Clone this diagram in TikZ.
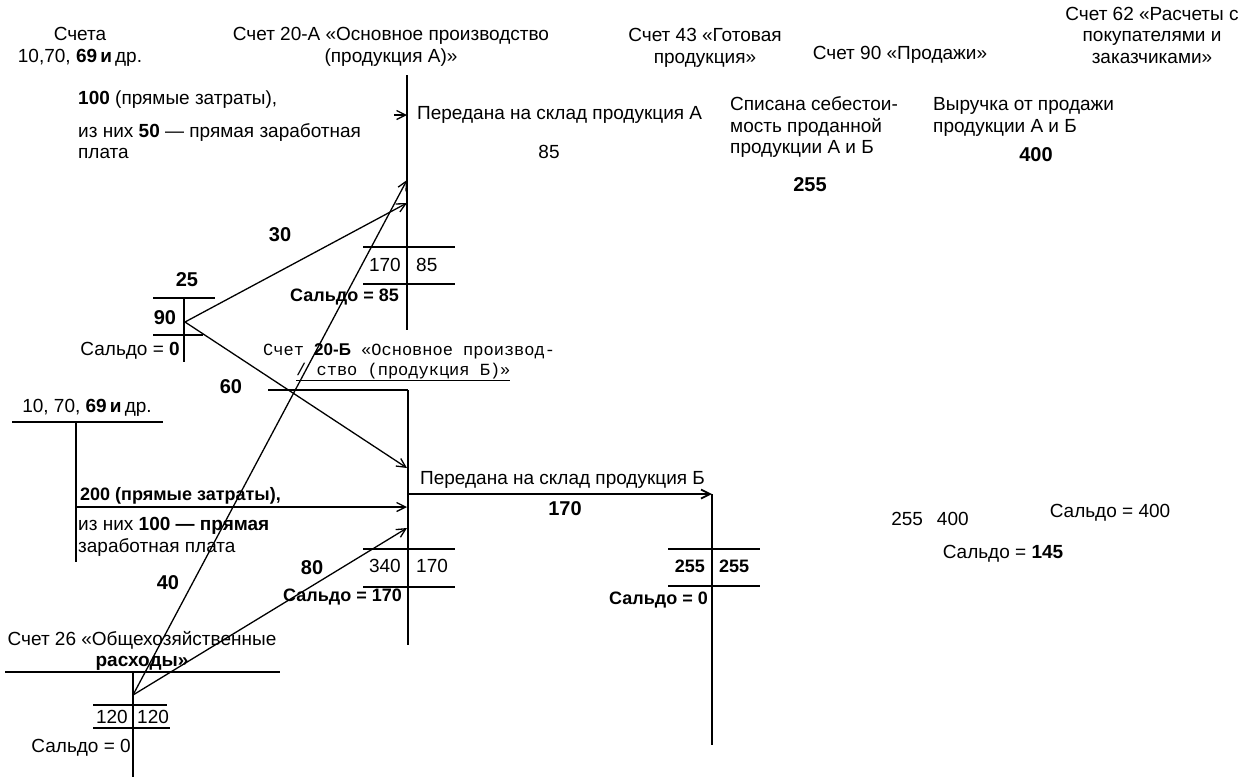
\documentclass[tikz,border=0pt]{standalone}
\usepackage{fontspec}
\setmainfont{Liberation Sans}
\newfontfamily\monofont{Liberation Mono}
\usetikzlibrary{arrows.meta}
\tikzset{
  txt/.style={font=\fontsize{19}{21.5}\selectfont, inner sep=0pt},
  bnum/.style={font=\fontsize{20}{22}\selectfont\bfseries, inner sep=0pt},
  bsal/.style={font=\fontsize{18}{21}\selectfont\bfseries, inner sep=0pt},
  tline/.style={line width=1.8pt},
  flow/.style={-{Straight Barb[length=9pt,width=9pt]}, line width=1.3pt},
}
\begin{document}
\begin{tikzpicture}[x=1pt,y=-1pt]
\useasboundingbox (0,0) rectangle (1242,777);
% headings
\node[txt, align=center] (hsch) at (80,47) {Счета\\10,70, \textbf{69\,и}\,др.};
\node[txt, align=center] (h20a) at (391,47) {Счет 20-А «Основное производство\\(продукция А)»};
\node[txt, align=center] (h43) at (705,48) {Счет 43 «Готовая\\продукция»};
\node[txt] (h90) at (900,55) {Счет 90 «Продажи»};
\node[txt, align=center] (h62) at (1152,35) {Счет 62 «Расчеты с\\покупателями и\\заказчиками»};
% texts of the upper part
\node[txt, anchor=west] (t100) at (78,100) {\textbf{100} (прямые затраты),};
\node[txt, anchor=west, align=left] (t50) at (78,141) {из них \textbf{50} — прямая заработная\\плата};
\node[txt, anchor=west] (tpa) at (417,115) {Передана на склад продукция А};
\node[txt] (n85) at (549,152) {85};
\node[txt, anchor=west, align=left] (tcost) at (730,127) {Списана себестои-\\мость проданной\\продукции А и Б};
\node[txt, anchor=west, align=left] (trev) at (933,117) {Выручка от продажи\\продукции А и Б};
\node[bnum] (n400) at (1036,155) {400};
\node[bnum] (n255) at (810,185) {255};
% account 20-A
\draw[tline] (407,75) -- (407,330);
\draw[tline] (363,247) -- (455,247);
\draw[tline] (363,284) -- (455,284);
\node[txt, anchor=east] (da) at (401,265) {170};
\node[txt, anchor=west] (ka) at (416,265) {85};
\node[bsal, anchor=east] (sa) at (399,297) {Сальдо = 85};
\coordinate (in100) at (407,115);
\coordinate (from100) at (394,115);
\coordinate (in40) at (407,180);
\coordinate (in30) at (407,203);
\draw[flow] (from100) -- (in100);
% account 25
\node[bnum] (h25) at (187,280) {25};
\draw[tline] (153,298) -- (215,298);
\draw[tline] (184,298) -- (184,362);
\draw[tline] (153,335) -- (203,335);
\node[bnum] (d25) at (165,318) {90};
\node[txt, anchor=east] (s25) at (180,351) {Сальдо = \textbf{0}};
\coordinate (j25) at (185,322);
\node[bnum] (l30) at (280,235) {30};
\node[bnum] (l60) at (231,387) {60};
% account 20-B
\node[txt, font=\fontsize{17}{20}\monofont, anchor=west, align=left] (h20b) at (263,362)
  {Счет \textbf{\rmfamily 20-Б} «Основное производ-\\\hspace*{33pt}\underline{/ ство (продукция Б)»}};
\draw[tline] (268,390) -- (408,390);
\draw[tline] (408,390) -- (408,645);
\draw[tline] (363,549) -- (455,549);
\draw[tline] (363,587) -- (455,587);
\node[txt, anchor=east] (db) at (401,566) {340};
\node[txt, anchor=west] (kb) at (416,566) {170};
\node[bsal, anchor=east] (sb) at (402,597) {Сальдо = 170};
\node[txt, anchor=west] (tpb) at (420,480) {Передана на склад продукция Б};
\node[bnum] (n170) at (565,509) {170};
\coordinate (in60) at (407,468);
\coordinate (in200) at (407,507);
\coordinate (in80) at (407,528);
\coordinate (outb) at (408,494);
\coordinate (in43) at (712,494);
\draw[flow, line width=1.8pt] (outb) -- (in43);
% account 43
\draw[tline] (712,494) -- (712,745);
\draw[tline] (668,549) -- (760,549);
\draw[tline] (668,586) -- (760,586);
\node[bsal, anchor=east] (d43) at (705,566) {255};
\node[bsal, anchor=west] (k43) at (719,566) {255};
\node[bsal, anchor=east] (s43) at (708,600) {Сальдо = 0};
% accounts 90 and 62
\node[txt] (t90) at (930,519) {255\hspace{14pt}400};
\node[txt] (s62) at (1110,513) {Сальдо = 400};
\node[txt] (s90) at (1003,554) {Сальдо = \textbf{145}};
% accounts 10, 70, 69
\node[txt] (hmat) at (87,408) {10, 70, \textbf{69\,и}\,др.};
\draw[tline] (12,422) -- (163,422);
\draw[tline] (76,422) -- (76,562);
\node[bsal, anchor=west] (t200) at (80,496) {200 (прямые затраты),};
\node[txt, anchor=west, align=left] (tzp) at (78,537) {из них \textbf{100 — прямая}\\заработная плата};
\coordinate (from200) at (76,507);
\draw[flow] (from200) -- (in200);
\node[bnum] (l40) at (168,583) {40};
\node[bnum] (l80) at (312,568) {80};
% account 26
\node[txt, align=center] (h26) at (142,651) {Счет 26 «Общехозяйственные\\\textbf{расходы»}};
\draw[tline] (5,672) -- (280,672);
\draw[tline] (133,672) -- (133,777);
\draw[tline] (93,705) -- (167,705);
\draw[tline] (93,728) -- (170,728);
\node[txt, anchor=east] (d26) at (128,717) {120};
\node[txt, anchor=west] (k26) at (137,717) {120};
\node[txt, anchor=east] (s26) at (131,748) {Сальдо = 0};
\coordinate (j26) at (133,695);
% distribution of 25 and 26
\draw[flow] (j25) -- (in30);
\draw[flow] (j25) -- (in60);
\draw[flow] (j26) -- (in40);
\draw[flow] (j26) -- (in80);
\end{tikzpicture}
\end{document}
